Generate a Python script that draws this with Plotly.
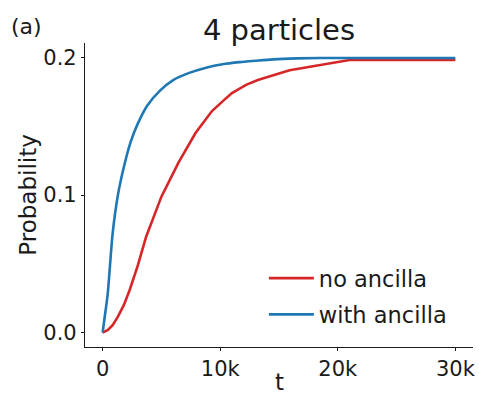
import plotly.graph_objects as go

# ---- data ----
t_no = [0, 450, 850, 1300, 1800, 2300, 3000, 3700, 5000, 6450, 7900, 9300, 10200, 11000, 12200, 13200, 15900, 21000, 30000]
p_no = [0, 0.002, 0.0055, 0.0116, 0.020, 0.031, 0.049, 0.0697, 0.0988, 0.1235, 0.145, 0.161, 0.168, 0.174, 0.180, 0.1835, 0.1906, 0.198, 0.198]

t_with = [0, 200, 430, 850, 1300, 1850, 2400, 3000, 3800, 4900, 6000, 7300, 8800, 10200, 11650, 13000, 14500, 16500, 18500, 30000]
p_with = [0, 0.013, 0.028, 0.072, 0.100, 0.122, 0.139, 0.152, 0.165, 0.176, 0.1835, 0.1885, 0.1925, 0.195, 0.1965, 0.1975, 0.1985, 0.1992, 0.1995, 0.1995]

x_tickvals = [0, 10000, 20000, 30000]
x_ticktext = ["0", "10k", "20k", "30k"]
y_tickvals = [0.0, 0.1, 0.2]
y_ticktext = ["0.0", "0.1", "0.2"]

FONT = "DejaVu Sans"
INK = "#1a1a1a"

fig = go.Figure()
fig.add_trace(go.Scatter(x=t_no, y=p_no, mode="lines", name="no ancilla",
                         legendgroup="a", line=dict(color="#d62728", width=2.6)))
fig.add_trace(go.Scatter(x=t_with, y=p_with, mode="lines", name="with ancilla",
                         legendgroup="b", line=dict(color="#1f77b4", width=2.6, shape="spline", smoothing=0.8)))

axis_common = dict(showgrid=False, zeroline=False, showline=True, linecolor=INK, linewidth=1.2,
                   ticks="outside", ticklen=3, tickwidth=1.2, tickcolor=INK,
                   tickfont=dict(family=FONT, size=21, color=INK))

fig.update_xaxes(range=[-1500, 31500], tickvals=x_tickvals, ticktext=x_ticktext, **axis_common)
fig.update_yaxes(range=[-0.0104, 0.2104], tickvals=y_tickvals, ticktext=y_ticktext,
                 ticklabelstandoff=0,
                 title=dict(text="Probability", font=dict(family=FONT, size=23, color=INK), standoff=0),
                 **axis_common)

fig.update_layout(
    width=479, height=398,
    margin=dict(l=85, r=6, t=43, b=51, autoexpand=False),
    paper_bgcolor="white", plot_bgcolor="white",
    font=dict(family=FONT, color=INK),
    title=dict(text="4 particles", font=dict(family=FONT, size=29, color=INK),
               xref="paper", x=0.5, xanchor="center",
               yref="container", y=0.925, yanchor="middle"),
    legend=dict(x=0.461, y=0.296, xanchor="left", yanchor="top", bgcolor="rgba(0,0,0,0)",
                font=dict(family=FONT, size=22.5, color=INK), tracegroupgap=4, itemwidth=45),
    showlegend=True,
    annotations=[
        dict(text="(a)", xref="paper", yref="paper", x=-0.196, y=1.054,
             xanchor="left", yanchor="middle", showarrow=False,
             font=dict(family=FONT, size=22, color=INK)),
        dict(text="t", xref="paper", yref="paper", x=0.5, y=-0.1645,
             xanchor="center", yanchor="bottom", showarrow=False,
             font=dict(family=FONT, size=23, color=INK)),
    ],
)

fig.write_html("out.html",
               config={"displayModeBar": False},
               post_script="document.body.style.margin='0';"
                           "document.documentElement.style.overflow='hidden';"
                           "document.body.style.overflow='hidden';")
